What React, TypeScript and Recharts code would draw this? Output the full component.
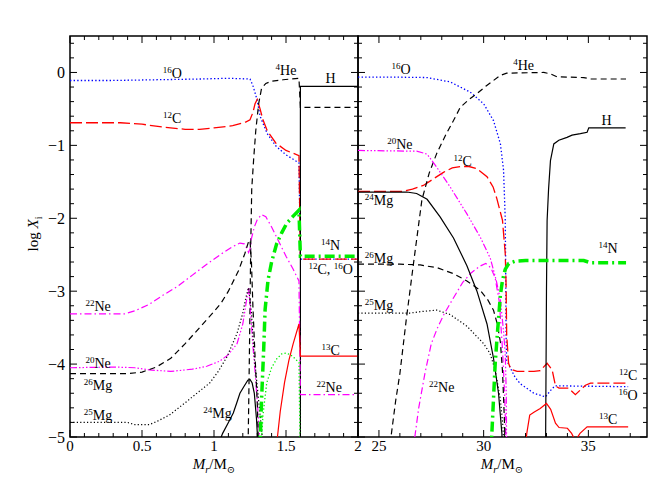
import React from "react";
import { ComposedChart, Line, XAxis, YAxis, ReferenceArea, ReferenceDot } from "recharts";

type P = [number, number];

// ---- left panel: M_r / M_sun from 0 to 2 ----
const leftXTicks = [0, 0.1, 0.2, 0.3, 0.4, 0.5, 0.6, 0.7, 0.8, 0.9, 1, 1.1, 1.2, 1.3, 1.4, 1.5, 1.6, 1.7, 1.8, 1.9, 2];
const rightXTicks = [24, 25, 26, 27, 28, 29, 30, 31, 32, 33, 34, 35, 36, 37];
const yTicks = [-5, -4.8, -4.6, -4.4, -4.2, -4, -3.8, -3.6, -3.4, -3.2, -3, -2.8, -2.6, -2.4, -2.2, -2, -1.8, -1.6, -1.4, -1.2, -1, -0.8, -0.6, -0.4, -0.2, 0, 0.2, 0.4];

const lO16: P[] = [[0, -0.11], [0.3, -0.11], [0.6, -0.1], [0.9, -0.09], [1.1, -0.08], [1.25, -0.09], [1.27, -0.18], [1.3, -0.38], [1.32, -0.6], [1.37, -0.84], [1.43, -1.01], [1.5, -1.13], [1.59, -1.24], [1.6, -2.56], [2, -2.56]];
const lC12: P[] = [[0, -0.69], [0.35, -0.69], [0.5, -0.71], [0.65, -0.75], [0.8, -0.78], [0.9, -0.78], [1.0, -0.76], [1.13, -0.73], [1.22, -0.68], [1.25, -0.65], [1.27, -0.55], [1.285, -0.43], [1.3, -0.37], [1.32, -0.5], [1.34, -0.65], [1.37, -0.8], [1.43, -0.97], [1.5, -1.07], [1.59, -1.14], [1.6, -2.56], [2, -2.56]];
const lHe4: P[] = [[1.237, -5.1], [1.245, -4.0], [1.25, -3.2], [1.255, -2.4], [1.262, -1.6], [1.275, -1.2], [1.29, -0.8], [1.31, -0.43], [1.33, -0.22], [1.36, -0.15], [1.4, -0.12], [1.48, -0.1], [1.59, -0.08], [1.6, -0.48], [2, -0.48]];
const lH: P[] = [[1.6, -5.5], [1.6, -0.19], [2, -0.19]];
const lN14: P[] = [[1.318, -5.2], [1.33, -4.5], [1.345, -3.8], [1.355, -3.25], [1.375, -2.85], [1.4, -2.6], [1.435, -2.35], [1.47, -2.2], [1.505, -2.07], [1.55, -1.97], [1.59, -1.89], [1.6, -2.52], [2, -2.52]];
const lNe22: P[] = [[0, -3.31], [0.38, -3.31], [0.45, -3.27], [0.55, -3.18], [0.65, -3.05], [0.75, -2.93], [0.85, -2.78], [0.95, -2.63], [1.05, -2.49], [1.12, -2.4], [1.18, -2.34], [1.21, -2.35], [1.23, -2.42], [1.24, -2.47], [1.25, -2.42], [1.26, -2.28], [1.28, -2.12], [1.3, -2.02], [1.33, -1.95], [1.36, -1.98], [1.4, -2.12], [1.45, -2.32], [1.5, -2.52], [1.55, -2.7], [1.59, -2.86], [1.6, -4.42], [2, -4.42]];
const lNe20: P[] = [[0, -4.05], [0.3, -4.04], [0.45, -4.05], [0.55, -4.08], [0.7, -4.1], [0.85, -4.07], [0.95, -4.03], [1.04, -3.96], [1.1, -3.87], [1.16, -3.72], [1.2, -3.45], [1.22, -3.2], [1.24, -2.95], [1.255, -3.3], [1.27, -3.75], [1.285, -4.1], [1.3, -4.5], [1.32, -5.1]];
const lMg26: P[] = [[0, -4.13], [0.4, -4.13], [0.5, -4.11], [0.6, -4.04], [0.7, -3.92], [0.8, -3.72], [0.9, -3.5], [1.0, -3.28], [1.05, -3.16], [1.1, -3.0], [1.17, -2.72], [1.215, -2.48], [1.24, -2.32], [1.25, -2.3], [1.26, -2.6], [1.27, -3.2], [1.285, -3.9], [1.3, -4.5], [1.31, -5.2]];
const lMg25: P[] = [[0, -4.8], [0.4, -4.8], [0.45, -4.83], [0.55, -4.83], [0.6, -4.79], [0.69, -4.7], [0.8, -4.53], [0.9, -4.37], [0.97, -4.26], [1.03, -4.1], [1.09, -3.9], [1.16, -3.58], [1.2, -3.3], [1.22, -3.1], [1.24, -2.95], [1.26, -3.3], [1.28, -3.9], [1.31, -4.5], [1.34, -5.1]];
const lMg24: P[] = [[1.03, -5.1], [1.06, -4.95], [1.1, -4.8], [1.134, -4.67], [1.16, -4.52], [1.18, -4.4], [1.21, -4.3], [1.235, -4.22], [1.25, -4.21], [1.265, -4.26], [1.28, -4.4], [1.295, -4.75], [1.305, -5.1]];
const lC13: P[] = [[1.435, -5.1], [1.46, -4.65], [1.49, -4.25], [1.52, -3.95], [1.55, -3.72], [1.59, -3.45], [1.6, -3.89], [2, -3.89]];
const lGreenDot: P[] = [[1.325, -5.2], [1.34, -4.7], [1.366, -4.26], [1.4, -4.05], [1.435, -3.93], [1.47, -3.86], [1.5, -3.85], [1.53, -3.87], [1.56, -3.92], [1.59, -3.98], [1.6, -5.5]];

// ---- right panel: M_r / M_sun from 24 to ~38 ----
const rO16: P[] = [[24, -0.065], [26, -0.065], [27.3, -0.07], [28.4, -0.13], [29.36, -0.27], [30, -0.43], [30.47, -0.66], [30.8, -0.98], [30.95, -1.34], [31.03, -2.0], [31.05, -2.6], [31.07, -3.6], [31.1, -3.95], [31.27, -4.05], [31.5, -4.18], [31.75, -4.27], [32.4, -4.4], [32.95, -4.45], [33.2, -4.36], [33.4, -4.3], [34, -4.3], [36.9, -4.31]];
const rHe4: P[] = [[25.53, -5.1], [25.8, -4.5], [26.0, -4.13], [26.3, -3.4], [26.65, -2.62], [27.05, -1.75], [27.4, -1.38], [27.76, -1.11], [28.2, -0.85], [28.56, -0.66], [28.88, -0.48], [29.3, -0.37], [29.68, -0.29], [30.1, -0.19], [30.47, -0.11], [30.8, -0.04], [31.1, -0.01], [32.87, 0.0], [33.19, -0.02], [33.5, -0.06], [34.78, -0.07], [35.1, -0.09], [36.8, -0.09]];
const rMg26: P[] = [[24, -2.63], [26.0, -2.63], [26.97, -2.64], [27.8, -2.68], [28.56, -2.76], [29.2, -2.86], [29.84, -2.99], [30.2, -3.12], [30.47, -3.26], [30.65, -3.45], [30.8, -3.7], [30.9, -4.1], [30.95, -4.45], [31.0, -4.85], [31.03, -5.2]];
const rC12: P[] = [[24, -1.63], [26.17, -1.63], [26.6, -1.6], [27.12, -1.55], [27.6, -1.46], [28.08, -1.37], [28.5, -1.31], [28.88, -1.29], [29.3, -1.29], [29.68, -1.32], [30.16, -1.43], [30.45, -1.57], [30.63, -1.73], [30.9, -2.03], [31.03, -2.48], [31.07, -2.9], [31.1, -3.6], [31.19, -3.99], [31.3, -4.07], [31.6, -4.1], [32.4, -4.1], [32.7, -4.09], [33.03, -3.99], [33.27, -4.08], [33.43, -4.3], [33.6, -4.33], [34.06, -4.33], [34.38, -4.42], [34.6, -4.36], [34.86, -4.29], [35.1, -4.26], [36.9, -4.26]];
const rNe20: P[] = [[24, -1.07], [26.8, -1.08], [27.3, -1.12], [27.76, -1.3], [28.4, -1.57], [29.2, -1.94], [29.84, -2.26], [30.32, -2.55], [30.6, -2.85], [30.8, -3.12], [30.95, -3.55], [31.03, -3.85], [31.08, -4.4], [31.1, -5.2]];
const rMg24: P[] = [[24, -1.64], [26.33, -1.64], [26.8, -1.66], [27.3, -1.74], [27.92, -1.98], [28.56, -2.27], [29.2, -2.65], [29.68, -3.0], [30.16, -3.45], [30.47, -3.92], [30.71, -4.4], [30.87, -4.95], [30.9, -5.2]];
const rNe22: P[] = [[26.62, -5.2], [26.9, -4.6], [27.2, -4.12], [27.5, -3.72], [27.8, -3.5], [28.1, -3.32], [28.5, -3.12], [29.0, -2.88], [29.4, -2.75], [29.8, -2.66], [30.1, -2.62], [30.35, -2.68], [30.55, -2.82], [30.75, -3.15], [30.9, -3.8], [31.0, -4.4], [31.08, -5.2]];
const rMg25: P[] = [[24, -3.3], [26.5, -3.3], [27.0, -3.28], [27.76, -3.26], [28.4, -3.32], [29.2, -3.48], [30.0, -3.72], [30.3, -3.85], [30.55, -4.08], [30.8, -4.49], [30.92, -4.85], [30.97, -5.2]];
const rN14: P[] = [[30.35, -5.2], [30.45, -4.6], [30.55, -4.0], [30.65, -3.6], [30.8, -3.05], [30.9, -2.85], [31.03, -2.7], [31.2, -2.62], [31.5, -2.59], [32, -2.58], [34.78, -2.58], [35.1, -2.61], [36.8, -2.61]];
const rC13: P[] = [[31.97, -5.2], [32.06, -4.95], [32.2, -4.7], [32.4, -4.66], [32.7, -4.61], [33.0, -4.54], [33.2, -4.62], [33.43, -4.81], [33.6, -4.87], [34.0, -4.88], [34.2, -4.95], [34.38, -5.05], [34.6, -4.95], [34.94, -4.86], [36.9, -4.86]];
const rH: P[] = [[32.95, -5.5], [33.0, -3.0], [33.03, -2.03], [33.1, -1.6], [33.19, -1.21], [33.35, -0.98], [33.59, -0.93], [33.98, -0.89], [34.22, -0.86], [34.62, -0.84], [34.94, -0.82], [35.02, -0.76], [36.78, -0.76]];

// species labels ("^12C" = superscript mass number)
const leftLabels = [
  { t: "^16O", x: 0.71, y: -0.01 },
  { t: "^12C", x: 0.71, y: -0.62 },
  { t: "^4He", x: 1.5, y: 0.03 },
  { t: "H", x: 1.81, y: -0.08 },
  { t: "^14N", x: 1.81, y: -2.36 },
  { t: "^12C, ^16O", x: 1.81, y: -2.7 },
  { t: "^13C", x: 1.81, y: -3.81 },
  { t: "^22Ne", x: 1.8, y: -4.31 },
  { t: "^22Ne", x: 0.195, y: -3.21 },
  { t: "^20Ne", x: 0.195, y: -3.99 },
  { t: "^26Mg", x: 0.195, y: -4.29 },
  { t: "^25Mg", x: 0.195, y: -4.7 },
  { t: "^24Mg", x: 1.025, y: -4.67 },
];
const rightLabels = [
  { t: "^16O", x: 26.06, y: 0.045 },
  { t: "^4He", x: 31.91, y: 0.096 },
  { t: "H", x: 35.87, y: -0.65 },
  { t: "^20Ne", x: 26.0, y: -0.98 },
  { t: "^12C", x: 29.0, y: -1.21 },
  { t: "^24Mg", x: 25.0, y: -1.75 },
  { t: "^14N", x: 35.94, y: -2.41 },
  { t: "^26Mg", x: 25.0, y: -2.55 },
  { t: "^25Mg", x: 25.0, y: -3.19 },
  { t: "^22Ne", x: 28.0, y: -4.31 },
  { t: "^12C", x: 36.9, y: -4.15 },
  { t: "^16O", x: 36.9, y: -4.42 },
  { t: "^13C", x: 35.94, y: -4.75 },
];

const H = 491;
const FONT = "'Liberation Serif', 'DejaVu Serif', serif";
const GREEN = "#00ee00";

const STYLES = {
  o16: { stroke: "#0000ff", dash: "1.4 2.2", w: 1.3 },
  c12: { stroke: "#ff0000", dash: "12 4", w: 1.3 },
  he4: { stroke: "#000", dash: "6 4", w: 1.2 },
  h: { stroke: "#000", dash: undefined, w: 1.2 },
  n14: { stroke: GREEN, dash: "10 4 2 4", w: 3.5 },
  ne22: { stroke: "#ff00ff", dash: "7 3 1.5 3", w: 1.2 },
  ne20: { stroke: "#ff00ff", dash: "7 2 1.5 2 1.5 2 1.5 2", w: 1.2 },
  mg26: { stroke: "#000", dash: "6 4", w: 1.2 },
  mg25: { stroke: "#000", dash: "1.2 2.2", w: 1.2 },
  mg24: { stroke: "#000", dash: undefined, w: 1.2 },
  c13: { stroke: "#ff0000", dash: undefined, w: 1.2 },
  gdot: { stroke: GREEN, dash: "1.3 2.2", w: 1.3 },
};
type StyleKey = keyof typeof STYLES;

const leftSeries: [string, P[], StyleKey][] = [
  ["O16", lO16, "o16"], ["C12", lC12, "c12"], ["He4", lHe4, "he4"], ["H", lH, "h"],
  ["Ne20", lNe20, "ne20"], ["Ne22", lNe22, "ne22"], ["Mg26", lMg26, "mg26"], ["Mg25", lMg25, "mg25"],
  ["Mg24", lMg24, "mg24"], ["C13", lC13, "c13"], ["Gdot", lGreenDot, "gdot"], ["N14", lN14, "n14"],
];
const rightSeries: [string, P[], StyleKey][] = [
  ["O16", rO16, "o16"], ["C12", rC12, "c12"], ["He4", rHe4, "he4"], ["H", rH, "h"],
  ["Ne20", rNe20, "ne20"], ["Ne22", rNe22, "ne22"], ["Mg26", rMg26, "mg26"], ["Mg25", rMg25, "mg25"],
  ["Mg24", rMg24, "mg24"], ["C13", rC13, "c13"], ["N14", rN14, "n14"],
];

const pts = (a: P[]) => a.map(([x, y]) => ({ x, y }));
const minus = (v: number) => (v < 0 ? "\u2212" + Math.abs(v) : String(v));

function IsoLabel({ viewBox, text }: { viewBox?: any; text: string }) {
  if (!viewBox) return null;
  const cx = viewBox.x + (viewBox.width || 0) / 2;
  const cy = viewBox.y + (viewBox.height || 0) / 2;
  const parts = text.split(/(\^\d+)/).filter((p) => p.length > 0);
  return (
    <text x={cx} y={cy + 5} textAnchor="middle" fontFamily={FONT} fontSize={14} fill="#000" style={{ whiteSpace: "pre" }}>
      {parts.map((p, i) => {
        if (p.startsWith("^")) {
          return <tspan key={i} fontSize={9} dy={-5}>{p.slice(1)}</tspan>;
        }
        const afterSup = i > 0 && parts[i - 1].startsWith("^");
        return <tspan key={i} dy={afterSup ? 5 : 0}>{p}</tspan>;
      })}
    </text>
  );
}

type PanelProps = {
  left: number;
  width: number;
  margin: { top: number; right: number; bottom: number; left: number };
  xDomain: [number, number];
  xTicks: number[];
  isMajorX: (v: number) => boolean;
  series: [string, P[], StyleKey][];
  labels: { t: string; x: number; y: number }[];
  yLabels: boolean;
};

function Panel({ left, width, margin, xDomain, xTicks, isMajorX, series, labels, yLabels }: PanelProps) {
  const plotW = width - margin.left - margin.right;
  const plotH = H - margin.top - margin.bottom;

  const xTick = (props: any) => {
    const { x, y, payload } = props;
    const major = isMajorX(payload.value);
    const len = major ? 7 : 4;
    return (
      <g>
        <line x1={x} x2={x} y1={y} y2={y - len} stroke="#000" strokeWidth={1} />
        <line x1={x} x2={x} y1={y - plotH} y2={y - plotH + len} stroke="#000" strokeWidth={1} />
        {major && (
          <text x={x} y={y + 14} textAnchor="middle" fontFamily={FONT} fontSize={15} fill="#000">
            {String(payload.value)}
          </text>
        )}
      </g>
    );
  };

  const yTick = (props: any) => {
    const { x, y, payload } = props;
    const v = payload.value;
    const major = Math.abs(v - Math.round(v)) < 1e-6;
    const len = major ? 7 : 4;
    return (
      <g>
        <line x1={x} x2={x + len} y1={y} y2={y} stroke="#000" strokeWidth={1} />
        <line x1={x + plotW} x2={x + plotW - len} y1={y} y2={y} stroke="#000" strokeWidth={1} />
        {yLabels && major && (
          <text x={x - 5} y={y + 5.5} textAnchor="end" fontFamily={FONT} fontSize={16} fill="#000">
            {minus(Math.round(v))}
          </text>
        )}
      </g>
    );
  };

  return (
    <div style={{ position: "absolute", left, top: 0 }}>
      <ComposedChart width={width} height={H} margin={margin}>
        <XAxis
          type="number"
          dataKey="x"
          domain={xDomain}
          allowDataOverflow
          ticks={xTicks}
          interval={0}
          mirror
          axisLine={false}
          tickLine={false}
          tickSize={0}
          tickMargin={0}
          tick={xTick}
        />
        <YAxis
          type="number"
          domain={[-5, 0.5]}
          allowDataOverflow
          ticks={yTicks}
          interval={0}
          mirror
          axisLine={false}
          tickLine={false}
          tickSize={0}
          tickMargin={0}
          tick={yTick}
        />
        <ReferenceArea x1={xDomain[0]} x2={xDomain[1]} y1={-5} y2={0.5} fill="none" fillOpacity={0} stroke="#000" strokeWidth={1.5} />
        {series.map(([name, d, key]) => {
          const s = STYLES[key];
          return (
            <Line
              key={name}
              data={pts(d)}
              dataKey="y"
              type="linear"
              stroke={s.stroke}
              strokeWidth={s.w}
              strokeDasharray={s.dash}
              dot={false}
              activeDot={false}
              isAnimationActive={false}
            />
          );
        })}
        {labels.map((l, i) => (
          <ReferenceDot
            key={i}
            x={l.x}
            y={l.y}
            r={0}
            fill="none"
            stroke="none"
            label={{ content: (p: any) => <IsoLabel viewBox={p.viewBox} text={l.t} /> }}
          />
        ))}
      </ComposedChart>
    </div>
  );
}

export default function App() {
  return (
    <div style={{ position: "absolute", left: 0, top: 0, width: 656, height: H, background: "#fff" }}>
      <Panel
        left={0}
        width={362}
        margin={{ top: 36, right: 4, bottom: 54, left: 70 }}
        xDomain={[0, 2]}
        xTicks={leftXTicks}
        isMajorX={(v) => Math.abs(v * 2 - Math.round(v * 2)) < 1e-6}
        series={leftSeries}
        labels={leftLabels}
        yLabels
      />
      <Panel
        left={354}
        width={302}
        margin={{ top: 36, right: 9, bottom: 54, left: 4 }}
        xDomain={[24, 37.8]}
        xTicks={rightXTicks}
        isMajorX={(v) => v % 5 === 0}
        series={rightSeries}
        labels={rightLabels}
        yLabels={false}
      />
      <svg width={656} height={H} style={{ position: "absolute", left: 0, top: 0, pointerEvents: "none" }}>
        <text transform="translate(38,234) rotate(-90)" textAnchor="middle" fontFamily={FONT} fontSize={15} fill="#000">
          log <tspan fontStyle="italic">X</tspan>
          <tspan fontSize={10} dy={4}>i</tspan>
        </text>
        {[214, 502].map((cx) => (
          <text key={cx} x={cx} y={469} textAnchor="middle" fontFamily={FONT} fontSize={15} fill="#000">
            <tspan fontStyle="italic">M</tspan>
            <tspan fontStyle="italic" fontSize={10} dy={4}>r</tspan>
            <tspan dy={-4}>/M</tspan>
            <tspan fontSize={10} dy={4}>{"\u2299"}</tspan>
          </text>
        ))}
      </svg>
    </div>
  );
}
